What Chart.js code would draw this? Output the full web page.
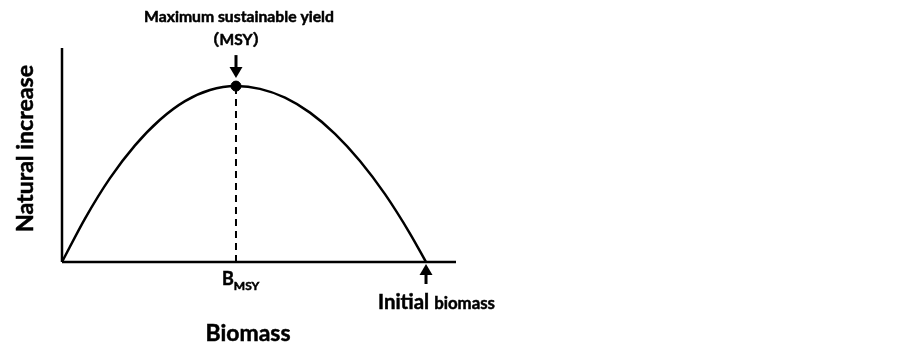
<!DOCTYPE html>
<html>
<head>
<meta charset="utf-8">
<script src="https://cdn.jsdelivr.net/npm/chart.js@4.4.0/dist/chart.umd.min.js"></script>
<style>
  html, body { margin: 0; padding: 0; background: #fff; }
  #wrap { width: 903px; height: 348px; }
</style>
</head>
<body>
<div id="wrap"><canvas id="myChart" width="903" height="348"></canvas></div>
<script>
// biomass (x) vs natural increase (y), arbitrary units
const biomass = [0, 5.84, 12.18, 18.53, 24.87, 31.22, 37.56, 44.16, 50.25, 56.6, 62.94, 69.29, 75.63, 81.98, 88.32, 92.39];
const increase = [0, 20.3, 39.2, 54.5, 66.5, 75.2, 80.4, 82.2, 80.9, 76.8, 69.8, 59.9, 47.2, 31.7, 13.3, 0];

const msyX = 44.16;
const msyY = 82.2;
const initialX = 92.39;

const xAxisPts = [{x: 0, y: 0}, {x: 100, y: 0}];
const yAxisPts = [{x: 0, y: 0}, {x: 0, y: 100}];

const FONT = 'Lato, "Noto Sans CJK JP", sans-serif';

// pick a font size so the text spans the given width
function fitFont(ctx, text, width, weight) {
    ctx.font = weight + ' 20px ' + FONT;
    const s = 20 * width / ctx.measureText(text).width;
    ctx.font = weight + ' ' + s.toFixed(2) + 'px ' + FONT;
    return s;
}

// slightly heavier text, closer to the bold face in the picture
function boldText(ctx, text, x, y) {
    ctx.lineWidth = 0.5;
    ctx.strokeText(text, x, y);
    ctx.fillText(text, x, y);
}

function arrow(ctx, x, yFrom, yTip) {
    const dir = yTip > yFrom ? 1 : -1;
    ctx.lineWidth = 3;
    ctx.beginPath();
    ctx.moveTo(x, yFrom);
    ctx.lineTo(x, yTip - dir * 8);
    ctx.stroke();
    ctx.beginPath();
    ctx.moveTo(x - 6.5, yTip - dir * 11);
    ctx.lineTo(x + 6.5, yTip - dir * 11);
    ctx.lineTo(x, yTip);
    ctx.closePath();
    ctx.fill();
}

const annotations = {
    id: 'annotations',
    afterDraw(chart) {
        const ctx = chart.ctx;
        const xs = chart.scales.x, ys = chart.scales.y;
        const px = xs.getPixelForValue(msyX);
        const ix = xs.getPixelForValue(initialX);
        const base = ys.getPixelForValue(0);
        const top = ys.getPixelForValue(msyY);

        ctx.save();
        ctx.fillStyle = '#000';
        ctx.strokeStyle = '#000';

        arrow(ctx, px, top - 31, top - 8);
        arrow(ctx, ix, base + 22, base + 2);

        ctx.textAlign = 'center';
        ctx.textBaseline = 'alphabetic';
        fitFont(ctx, 'Maximum sustainable yield', 190, 'bold');
        boldText(ctx, 'Maximum sustainable yield', px + 3, 22);
        fitFont(ctx, '（MSY）', 64, 'bold');
        boldText(ctx, '（MSY）', px, 45);

        // B_MSY
        ctx.textAlign = 'left';
        ctx.font = 'bold 18px ' + FONT;
        const bw = ctx.measureText('B').width;
        const bx = px - 14;
        boldText(ctx, 'B', bx, 285);
        ctx.font = 'bold 12px ' + FONT;
        boldText(ctx, 'MSY', bx + bw, 290);

        // Initial biomass
        ctx.font = 'bold 17px ' + FONT;
        const w1 = ctx.measureText('Initial ').width;
        ctx.font = 'bold 14px ' + FONT;
        const w2 = ctx.measureText('biomass').width;
        const sx = 378;
        const k = 117 / (w1 + w2);
        ctx.font = 'bold ' + (17 * k).toFixed(2) + 'px ' + FONT;
        boldText(ctx, 'Initial ', sx, 309);
        ctx.font = 'bold ' + (14 * k).toFixed(2) + 'px ' + FONT;
        boldText(ctx, 'biomass', sx + w1 * k, 309);

        // axis titles
        ctx.textAlign = 'center';
        fitFont(ctx, 'Biomass', 85, 'bold');
        boldText(ctx, 'Biomass', 248, 341);

        ctx.translate(33, 148.5);
        ctx.rotate(-Math.PI / 2);
        fitFont(ctx, 'Natural increase', 167, 'bold');
        boldText(ctx, 'Natural increase', 0, 0);
        ctx.restore();
    }
};

const data = {
    datasets: [
        {
            label: 'Natural increase',
            data: biomass.map((b, i) => ({x: b, y: increase[i]})),
            borderColor: '#000',
            borderWidth: 2.5,
            pointRadius: 0,
            cubicInterpolationMode: 'monotone',
            clip: false
        },
        {
            label: 'BMSY',
            data: [{x: msyX, y: 0}, {x: msyX, y: msyY}],
            borderColor: '#000',
            borderWidth: 2,
            borderDash: [7, 5],
            pointRadius: 0,
            clip: false
        },
        {
            label: 'MSY',
            data: [{x: msyX, y: msyY}],
            backgroundColor: '#000',
            borderColor: '#000',
            pointRadius: 5,
            showLine: false,
            clip: false
        },
        {
            label: 'x axis',
            data: xAxisPts,
            borderColor: '#000',
            borderWidth: 2.5,
            pointRadius: 0,
            clip: false
        },
        {
            label: 'y axis',
            data: yAxisPts,
            borderColor: '#000',
            borderWidth: 2.5,
            pointRadius: 0,
            clip: false
        }
    ]
};

const config = {
    type: 'line',
    data: data,
    options: {
        responsive: false,
        animation: false,
        layout: {
            padding: {left: 62, top: 48, right: 447, bottom: 86}
        },
        plugins: {
            legend: { display: false },
            tooltip: { enabled: false }
        },
        scales: {
            x: { type: 'linear', min: 0, max: 100, display: false },
            y: { min: 0, max: 100, display: false }
        }
    },
    plugins: [annotations]
};

new Chart(document.getElementById('myChart'), config);
</script>
</body>
</html>
